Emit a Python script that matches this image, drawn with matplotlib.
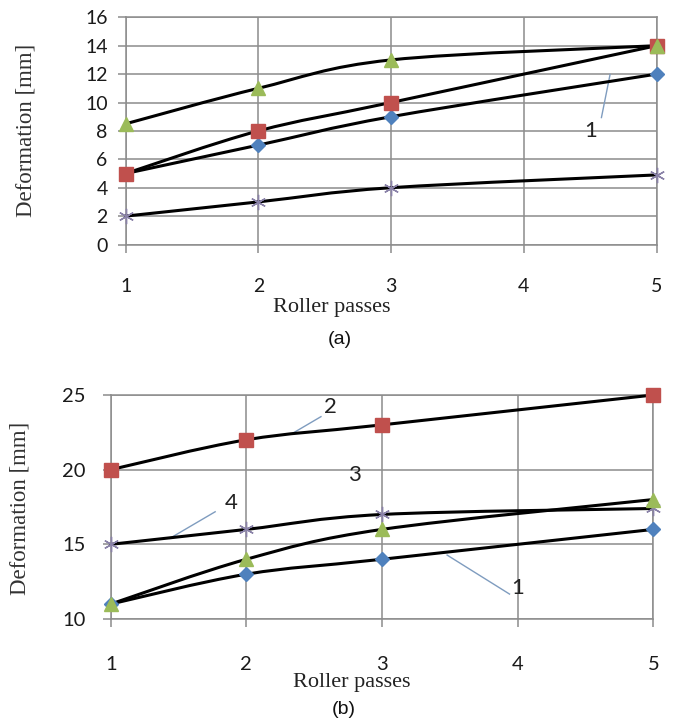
import matplotlib
matplotlib.use("Agg")
import matplotlib.pyplot as plt
from matplotlib.path import Path
from matplotlib.patches import PathPatch
import numpy as np

# ---------------- data ----------------
passes = [1, 2, 3, 5]
xticks = [1, 2, 3, 4, 5]

# panel (a)
a_s1 = [5, 7, 9, 12]        # blue diamonds (curve 1)
a_s2 = [5, 8, 10, 14]       # red squares
a_s3 = [8.5, 11, 13, 14]    # green triangles
a_s4 = [2, 3, 4, 4.9]       # stars
a_yticks = [0, 2, 4, 6, 8, 10, 12, 14, 16]

# panel (b)
b_s1 = [11, 13, 14, 16]     # blue diamonds (curve 1)
b_s2 = [20, 22, 23, 25]     # red squares (curve 2)
b_s3 = [11, 14, 16, 18]     # green triangles (curve 3)
b_s4 = [15, 16, 17, 17.4]   # stars (curve 4)
b_yticks = [10, 15, 20, 25]

# ---------------- style ----------------
GRID = "#8c8c8c"
BLUE = "#4f81bd"
RED = "#c0504d"
GREEN = "#9bbb59"
STAR = "#8a82a8"
LEAD = "#7f9cbf"
TICKFONT = "Lato"
SERIF = "Liberation Serif"

fig = plt.figure(figsize=(6.73, 7.22), dpi=100)
W, H = 673, 722


def px_axes(l, t, r, b):
    return fig.add_axes([l / W, 1 - b / H, (r - l) / W, (b - t) / H])


def smooth(ax, xs, ys):
    pts = np.column_stack([xs, ys]).astype(float)
    n = len(pts)
    verts = [pts[0]]
    codes = [Path.MOVETO]
    for i in range(n - 1):
        p0, p1 = pts[i], pts[i + 1]
        pm = pts[i - 1] if i > 0 else pts[i]
        pp = pts[i + 2] if i + 2 < n else pts[i + 1]
        c1 = p0 + (p1 - pm) / 6.0
        c2 = p1 - (pp - p0) / 6.0
        verts += [c1, c2, p1]
        codes += [Path.CURVE4] * 3
    patch = PathPatch(Path(verts, codes), facecolor="none", edgecolor="black",
                      lw=2.2, transform=ax.transData, zorder=3, clip_on=False,
                      capstyle="round", joinstyle="round")
    ax.add_patch(patch)


def style_axes(ax, ylim, yticks, ypad, xpad, fs):
    ax.set_xlim(1, 5)
    ax.set_ylim(*ylim)
    ax.set_xticks(xticks)
    ax.set_yticks(yticks)
    ax.grid(True, color=GRID, lw=1.1)
    ax.set_axisbelow(True)
    for s in ax.spines.values():
        s.set_color(GRID)
        s.set_linewidth(1.1)
    ax.tick_params(axis="both", direction="out", length=6, width=1.1, color=GRID,
                   labelsize=fs, labelcolor="#1a1a1a")
    ax.tick_params(axis="y", pad=ypad)
    ax.tick_params(axis="x", pad=xpad)
    for lab in ax.get_xticklabels() + ax.get_yticklabels():
        lab.set_fontfamily(TICKFONT)


def draw_series(ax, s1, s2, s3, s4):
    for ys in (s1, s2, s3, s4):
        smooth(ax, passes, ys)
    kw = dict(ls="none", zorder=4, clip_on=False)
    ax.plot(passes, s4, marker=(6, 2, 0), ms=11, mec=STAR, mew=1.0, **kw)
    ax.plot(passes, s1, marker="D", ms=7, mfc=BLUE, mec=BLUE, **kw)
    ax.plot(passes, s2, marker="s", ms=10, mfc=RED, mec=RED, **kw)
    ax.plot(passes, s3, marker="^", ms=9.5, mfc=GREEN, mec=GREEN, **kw)


def label(ax, txt, xy_text, xy_line_from, xy_line_to):
    ax.text(*xy_text, txt, fontsize=16, family=TICKFONT, color="#222222",
            ha="center", va="center", zorder=5)
    ax.plot([xy_line_from[0], xy_line_to[0]], [xy_line_from[1], xy_line_to[1]],
            color=LEAD, lw=1.0, zorder=2.5)


# ---------------- panel (a) ----------------
ax1 = px_axes(125.7, 17.3, 656.5, 244.5)
style_axes(ax1, (0, 16), a_yticks, ypad=7, xpad=18, fs=14)
draw_series(ax1, a_s1, a_s2, a_s3, a_s4)
label(ax1, "1", (4.5, 8.0), (4.585, 8.94), (4.65, 11.97))

fig.text(26 / W, 1 - 130 / H, "Deformation [mm]", rotation=90, family=SERIF,
         fontsize=16.5, ha="center", va="center", color="#333333")
fig.text(332 / W, 1 - 308 / H, "Roller passes", family=SERIF, fontsize=16,
         ha="center", va="center", color="#222222")
fig.text(340 / W, 1 - 339 / H, "(a)", family="Liberation Sans", fontsize=14,
         ha="center", va="center", color="#111111")

# ---------------- panel (b) ----------------
ax2 = px_axes(110.7, 395, 653.3, 619)
style_axes(ax2, (10, 25), b_yticks, ypad=12, xpad=21, fs=14.5)
draw_series(ax2, b_s1, b_s2, b_s3, b_s4)
label(ax2, "2", (2.62, 24.2), (2.55, 23.55), (2.34, 22.43))
ax2.text(2.80, 19.64, "3", fontsize=16, family=TICKFONT, color="#222222",
         ha="center", va="center", zorder=5)
label(ax2, "4", (1.886, 17.79), (1.77, 17.18), (1.436, 15.40))
label(ax2, "1", (4.0, 12.05), (3.94, 11.67), (3.48, 14.28))

fig.text(20 / W, 1 - 508 / H, "Deformation [mm]", rotation=90, family=SERIF,
         fontsize=16.5, ha="center", va="center", color="#333333")
fig.text(352 / W, 1 - 682 / H, "Roller passes", family=SERIF, fontsize=16,
         ha="center", va="center", color="#222222")
fig.text(344 / W, 1 - 709 / H, "(b)", family="Liberation Sans", fontsize=14,
         ha="center", va="center", color="#111111")

fig.savefig("out.png", dpi=100)
